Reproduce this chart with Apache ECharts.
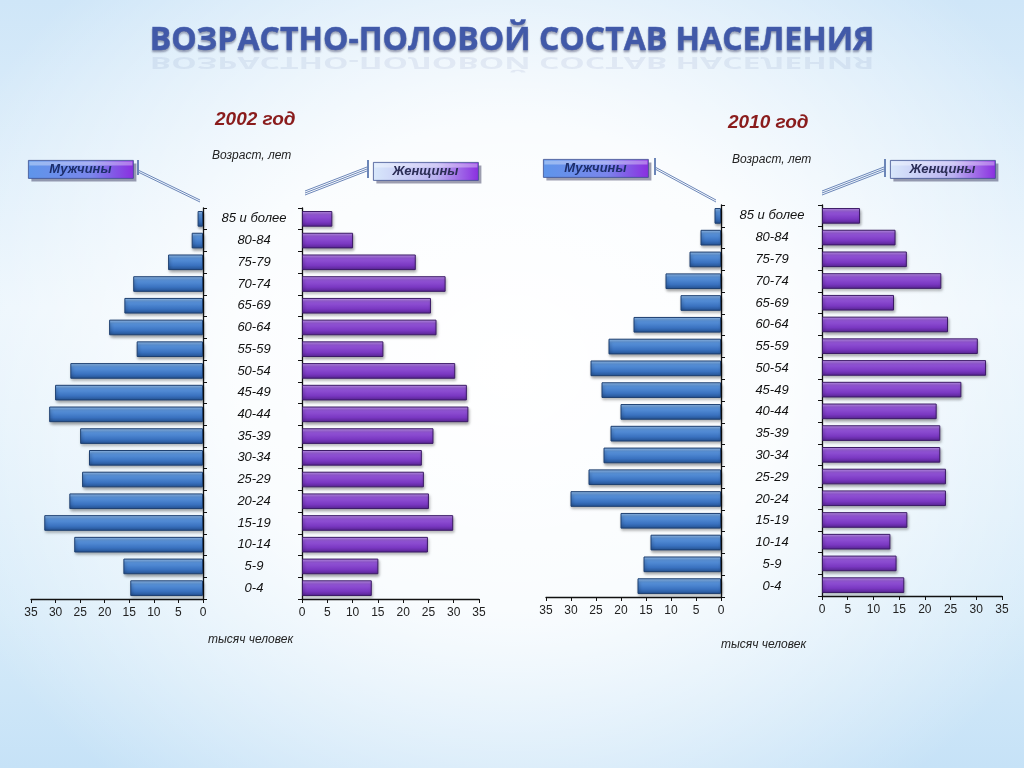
<!DOCTYPE html>
<html><head><meta charset="utf-8">
<script src="https://cdn.jsdelivr.net/npm/echarts@6/dist/echarts.min.js"></script>
<style>
html,body{margin:0;padding:0;width:1024px;height:768px;overflow:hidden;}
body{background:
 radial-gradient(ellipse 60% 70% at 50% 48%, rgba(255,255,255,1) 0%, rgba(255,255,255,0.85) 45%, rgba(255,255,255,0) 100%),
 linear-gradient(180deg,#cfe6f8 0%,#e9f4fc 40%,#d6ebf9 80%,#c6e2f7 100%);}
#c{width:1024px;height:768px;}
</style></head><body><div id="c"></div>
<script>
// Age groups, bottom to top
const ageGroups = ['0-4','5-9','10-14','15-19','20-24','25-29','30-34','35-39','40-44','45-49','50-54','55-59','60-64','65-69','70-74','75-79','80-84','85 и более'];
// thousands of people
const men2002   = [14.8,16.2,26.2,32.3,27.2,24.6,23.2,25.0,31.3,30.1,27.0,13.5,19.1,16.0,14.2,7.1,2.3,1.1];
const women2002 = [13.8,15.1,24.9,29.9,25.1,24.1,23.7,26.0,32.9,32.6,30.3,16.1,26.6,25.5,28.4,22.5,10.1,6.0];
const men2010   = [16.7,15.5,14.1,20.1,30.1,26.5,23.5,22.1,20.1,23.9,26.1,22.5,17.5,8.1,11.1,6.3,4.1,1.3];
const women2010 = [16.0,14.5,13.3,16.6,24.1,24.1,23.0,23.0,22.3,27.1,31.9,30.3,24.5,14.0,23.2,16.5,14.3,7.4];
const valueTicks = {min:0,max:35,interval:5};

const chart = echarts.init(document.getElementById('c'));
const lbl = {fontFamily:'Liberation Sans, Arial, sans-serif', fontSize:12, color:'#222'};
const blueGrad = {type:'linear',x:0,y:0,x2:0,y2:1,colorStops:[
  {offset:0,color:'#9cc4f0'},{offset:0.25,color:'#5a94dc'},{offset:0.7,color:'#3a72c0'},{offset:1,color:'#23508f'}]};
const purpleGrad = {type:'linear',x:0,y:0,x2:0,y2:1,colorStops:[
  {offset:0,color:'#c49af0'},{offset:0.25,color:'#9456d8'},{offset:0.7,color:'#7a38c2'},{offset:1,color:'#55238f'}]};

const grids = [
  {left:31, width:172, top:208, height:391},
  {left:302, width:177, top:208, height:391},
  {left:546, width:175, top:205, height:392},
  {left:822, width:180, top:205, height:391}
];
function xAx(i, inverse){
  return {gridIndex:i, type:'value', min:valueTicks.min, max:valueTicks.max, interval:valueTicks.interval, inverse:inverse,
    axisLine:{show:true,lineStyle:{color:'#111',width:1.3}}, axisTick:{show:true,length:4,lineStyle:{color:'#111'}},
    splitLine:{show:false}, axisLabel:Object.assign({margin:8},lbl)};
}
function yAx(i, pos, showLabel){
  return {gridIndex:i, type:'category', data:ageGroups, position:pos,
    axisLine:{show:true,lineStyle:{color:'#111',width:1.3}},
    axisTick:{show:true,length:4,lineStyle:{color:'#111'}},
    axisLabel:{show:showLabel, align:'center', margin:51, fontFamily:'Liberation Sans, Arial, sans-serif', fontStyle:'italic', fontSize:13, color:'#111'}};
}
function bar(i, data, grad, border){
  return {type:'bar', xAxisIndex:i, yAxisIndex:i, data:data, barCategoryGap:'28%',
    itemStyle:{color:grad, borderColor:border, borderWidth:1, shadowColor:'rgba(0,0,0,0.35)', shadowBlur:3, shadowOffsetX:1, shadowOffsetY:2},
    silent:true};
}

function legendBox(x,y,text,light){
  return {type:'group', left:x, top:y, children:[
    {type:'rect', shape:{x:3,y:3,width:105,height:18}, style:{fill:'rgba(40,40,80,0.45)'}},
    {type:'rect', shape:{x:0,y:0,width:105,height:18}, style:{
      fill:{type:'linear',x:0,y:0,x2:1,y2:0,colorStops: light ?
        [{offset:0,color:'#d8e8fb'},{offset:0.6,color:'#b9b0f0'},{offset:1,color:'#8a2ee0'}] :
        [{offset:0,color:'#5e95ea'},{offset:0.6,color:'#7a86ec'},{offset:1,color:'#8a2ee0'}]},
      stroke:'#3d4f8f', lineWidth:0.8}},
    {type:'rect', shape:{x:1,y:1,width:103,height:4}, style:{fill:'rgba(255,255,255,0.35)'}},
    {type:'text', style:{x:52,y:9,text:text,align:'center',verticalAlign:'middle',
      font:'italic bold 13px Liberation Sans, Arial, sans-serif', fill: light ? '#2b2d55' : '#1c2e6a'}}
  ]};
}
function connector(x1,y1,x2,y2,vx,vy1,vy2,n){
  const ch=[{type:'line',shape:{x1:vx,y1:vy1,x2:vx,y2:vy2},style:{stroke:'#6c86b8',lineWidth:2}}];
  for(let k=0;k<n;k++){
    ch.push({type:'line',shape:{x1:x1,y1:y1+k*2,x2:x2,y2:y2+k*2},style:{stroke:'#6c86b8',lineWidth:1}});
  }
  return ch;
}
const titleText = 'ВОЗРАСТНО-ПОЛОВОЙ СОСТАВ НАСЕЛЕНИЯ';
const titleFont = 'bold 32px "Open Sans", "DejaVu Sans", sans-serif';

const graphics = [
  {type:'text', left:'center', top:54, scaleY:-0.5, originY:0, style:{text:titleText, font:titleFont, fill:'rgba(70,90,160,0.09)'}},
  {type:'text', left:'center', top:25, style:{text:titleText, font:titleFont, fill:'#4159a8',
    stroke:'#5e78c2', lineWidth:0.5,
    textShadowColor:'rgba(20,20,60,0.35)', textShadowBlur:2, textShadowOffsetY:2}},
  {type:'text', left:215, top:110, style:{text:'2002 год', font:'italic bold 19px Liberation Sans, Arial, sans-serif', fill:'#8a1c1c'}},
  {type:'text', left:728, top:113, style:{text:'2010 год', font:'italic bold 19px Liberation Sans, Arial, sans-serif', fill:'#8a1c1c'}},
  {type:'text', left:212, top:150, style:{text:'Возраст, лет', font:'italic 12px Liberation Sans, Arial, sans-serif', fill:'#222'}},
  {type:'text', left:732, top:154, style:{text:'Возраст, лет', font:'italic 12px Liberation Sans, Arial, sans-serif', fill:'#222'}},
  {type:'text', left:208, top:634, style:{text:'тысяч человек', font:'italic 12px Liberation Sans, Arial, sans-serif', fill:'#222'}},
  {type:'text', left:721, top:639, style:{text:'тысяч человек', font:'italic 12px Liberation Sans, Arial, sans-serif', fill:'#222'}},
  legendBox(28,160,'Мужчины',false),
  legendBox(373,162,'Женщины',true),
  legendBox(543,159,'Мужчины',false),
  legendBox(890,160,'Женщины',true)
].concat(
  connector(138,170,200,200,138,160,175,2),
  connector(305,191,367,167,368,160,178,3),
  connector(655,167,716,200,655,158,175,2),
  connector(822,191,884,167,885,159,177,3)
);

chart.setOption({
  animation:false,
  grid:grids,
  xAxis:[xAx(0,true),xAx(1,false),xAx(2,true),xAx(3,false)],
  yAxis:[yAx(0,'right',true),yAx(1,'left',false),yAx(2,'right',true),yAx(3,'left',false)],
  series:[
    bar(0,men2002,blueGrad,'#1d3f70'),
    bar(1,women2002,purpleGrad,'#3b1a66'),
    bar(2,men2010,blueGrad,'#1d3f70'),
    bar(3,women2010,purpleGrad,'#3b1a66')
  ],
  graphic:graphics
});
</script></body></html>
